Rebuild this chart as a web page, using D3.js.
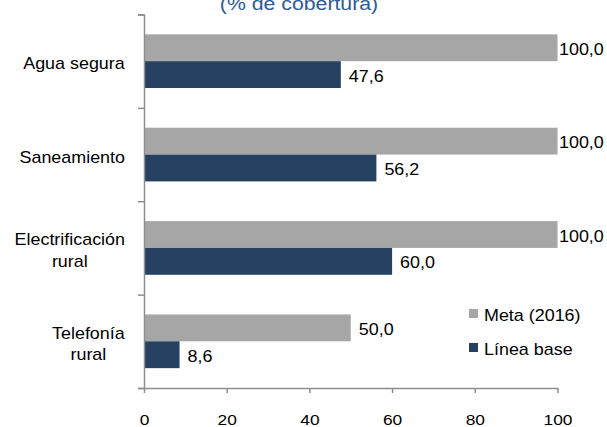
<!DOCTYPE html>
<html>
<head>
<meta charset="utf-8">
<script src="https://cdn.jsdelivr.net/npm/d3@7"></script>
<style>
  html, body { margin: 0; padding: 0; background: #fff; }
  svg { display: block; font-family: "Liberation Sans", Arial, sans-serif; }
</style>
</head>
<body>
<svg id="chart" width="607" height="427"></svg>
<script>
// ---- data ----
const categories = [["Agua segura"], ["Saneamiento"], ["Electrificación", "rural"], ["Telefonía", "rural"]];
const seriesNames = ["Meta (2016)", "Línea base"];
const metaValues = [100.0, 100.0, 100.0, 50.0];
const baseValues = [47.6, 56.2, 60.0, 8.6];
const xTicks = [0, 20, 40, 60, 80, 100];
const titleText = "(% de cobertura)";

// ---- styles ----
const SX = 1.12;
const colors = ["#A6A6A6", "#254061"];
const axisColor = "#8E8E8E";

const svg = d3.select("#chart");
const catKeys = categories.map(c => c.join(" "));

const x = d3.scaleLinear().domain([0, 100]).range([144, 557.5]);
const yTop = 14.5, yBot = 388;
const y0 = d3.scaleBand().domain(catKeys).range([yTop, yBot]);
const y1 = d3.scaleBand().domain(seriesNames).range([0, y0.bandwidth()]).paddingOuter(0.74);
const yTickScale = d3.scaleLinear().domain([0, categories.length]).range([yBot, yTop]);

function stext(g, str, tx, ty, size, anchor, fill) {
  return g.append("text")
    .attr("transform", `translate(${tx},${ty}) scale(${SX},1)`)
    .attr("text-anchor", anchor)
    .attr("font-size", size)
    .attr("fill", fill || "#000")
    .text(str);
}

// title (partly cut at top)
stext(svg, titleText, 299, 10, 19, "middle", "#2C5B99");

// bars
const rows = catKeys.map((k, i) => ({ key: k, vals: [metaValues[i], baseValues[i]] }));
const groups = svg.append("g").selectAll("g").data(rows).join("g")
  .attr("transform", d => `translate(0,${y0(d.key)})`);

groups.selectAll("rect").data(d => d.vals.map((v, j) => ({ v, s: seriesNames[j], j })))
  .join("rect")
  .attr("x", x(0))
  .attr("y", d => y1(d.s))
  .attr("width", d => x(d.v) - x(0))
  .attr("height", y1.bandwidth())
  .attr("fill", d => colors[d.j]);

const fmt = v => d3.format(".1f")(v).replace(".", ",");
groups.each(function (d) {
  const g = d3.select(this);
  d.vals.forEach((v, j) => {
    const cy = y1(seriesNames[j]) + y1.bandwidth() / 2;
    const lx = Math.min(x(v) + 8, 559);
    stext(g, fmt(v), lx, cy + 7, 16, "start");
  });
});

// y axis (ticks at category boundaries)
const yAxis = d3.axisLeft(yTickScale).tickValues(d3.range(0, categories.length + 1))
  .tickFormat("").tickSize(6).tickSizeOuter(6);
const gy = svg.append("g").attr("transform", `translate(${x(0)},0)`).call(yAxis);
gy.selectAll("path, line").attr("stroke", axisColor).attr("stroke-width", 1.5);

// x axis
const xAxis = d3.axisBottom(x).tickValues(xTicks).tickSize(5).tickSizeOuter(0).tickFormat(d3.format("d"));
const gx = svg.append("g").attr("transform", `translate(0,${yBot})`).call(xAxis);
gx.selectAll("path, line").attr("stroke", axisColor).attr("stroke-width", 1.5);
gx.selectAll("text")
  .attr("font-family", "Liberation Sans, Arial, sans-serif")
  .attr("font-size", 15.5).attr("fill", "#000")
  .attr("y", 0).attr("dy", 0)
  .attr("transform", `translate(0,37) scale(${SX},1)`);

// category labels: right-aligned blocks, lines centered in block
const labelRight = 125;
const lineH = 21.5;
categories.forEach((lines, i) => {
  const cy = y0(catKeys[i]) + y0.bandwidth() / 2 + 2.5;
  const g = svg.append("g");
  const ts = lines.map((ln, k) => stext(g, ln, 0, 0, 16, "middle"));
  const widths = ts.map(t => t.node().getBBox().width * SX);
  const bw = d3.max(widths);
  const cx = labelRight - bw / 2;
  const n = lines.length;
  ts.forEach((t, k) => {
    const lineCy = cy + (k - (n - 1) / 2) * lineH;
    t.attr("transform", `translate(${cx},${lineCy + 5.7}) scale(${SX},1)`);
  });
});

// legend
const legend = svg.append("g");
[[seriesNames[0], 309, 321], [seriesNames[1], 343, 354.5]].forEach((e, j) => {
  legend.append("rect").attr("x", 469).attr("y", e[1]).attr("width", 9).attr("height", 9).attr("fill", colors[j]);
  stext(legend, e[0], 484, e[2], 16, "start");
});
</script>
</body>
</html>
